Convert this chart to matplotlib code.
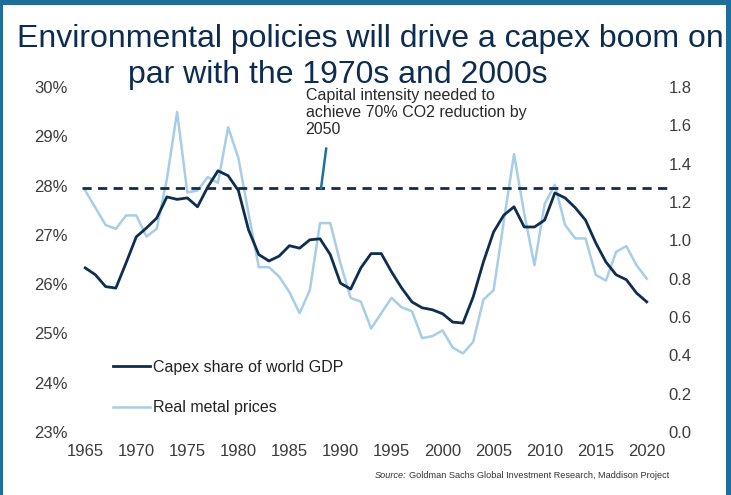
import numpy as np
import matplotlib.pyplot as plt
from matplotlib.lines import Line2D
from matplotlib.ticker import FuncFormatter

plt.rcParams['font.family'] = ['Liberation Sans', 'DejaVu Sans']

years = np.arange(1965, 2021)

# capex as share of world GDP, %
capex_share = [26.33, 26.19, 25.95, 25.92, 26.43, 26.96, 27.14, 27.34, 27.77, 27.72,
               27.75, 27.57, 27.97, 28.30, 28.20, 27.90, 27.10, 26.60, 26.47, 26.57,
               26.78, 26.73, 26.90, 26.92, 26.60, 26.02, 25.90, 26.33, 26.62, 26.62,
               26.25, 25.92, 25.64, 25.52, 25.48, 25.40, 25.23, 25.21, 25.74, 26.45,
               27.06, 27.40, 27.57, 27.16, 27.16, 27.30, 27.85, 27.75, 27.55, 27.30,
               26.84, 26.45, 26.19, 26.09, 25.82, 25.64]

# real metal price index (rhs)
metal_prices = [1.26, 1.17, 1.08, 1.06, 1.13, 1.13, 1.02, 1.06, 1.32, 1.67,
                1.25, 1.26, 1.33, 1.30, 1.59, 1.43, 1.14, 0.86, 0.86, 0.81,
                0.73, 0.62, 0.74, 1.09, 1.09, 0.88, 0.70, 0.68, 0.54, 0.62,
                0.70, 0.65, 0.63, 0.49, 0.50, 0.53, 0.44, 0.41, 0.47, 0.69,
                0.74, 1.10, 1.45, 1.14, 0.87, 1.19, 1.29, 1.08, 1.01, 1.01,
                0.82, 0.79, 0.94, 0.97, 0.87, 0.80]

target_share = 27.95
left_ticks = [23, 24, 25, 26, 27, 28, 29, 30]
right_ticks = [0.0, 0.2, 0.4, 0.6, 0.8, 1.0, 1.2, 1.4, 1.6, 1.8]
year_ticks = [1965, 1970, 1975, 1980, 1985, 1990, 1995, 2000, 2005, 2010, 2015, 2020]

navy = '#0f2e4f'
light = '#a8cde6'
frame = '#1e6d9b'
tick_grey = '#3c3c3c'

fig = plt.figure(figsize=(7.31, 4.95), dpi=100)
ax = fig.add_axes([0.1026, 0.1273, 0.8003, 0.6969])
ax2 = ax.twinx()
ax.set_zorder(ax2.get_zorder() + 1)
ax.patch.set_visible(False)

ax2.plot(years, metal_prices, color=light, lw=1.8, solid_joinstyle='round')
ax.plot(years, capex_share, color=navy, lw=2.0, solid_joinstyle='round')
ax.plot([1964.7, 2022.6], [target_share, target_share], color=navy, lw=2.0,
        dashes=(3.3, 2.3), clip_on=False)

ax.set_xlim(1964.0, 2021.3)
ax.set_ylim(23, 30)
ax2.set_ylim(0, 1.8)
ax.set_xticks(year_ticks)
ax.set_yticks(left_ticks)
ax2.set_yticks(right_ticks)
ax.yaxis.set_major_formatter(FuncFormatter(lambda v, p: f'{v:.0f}%'))
ax2.yaxis.set_major_formatter(FuncFormatter(lambda v, p: f'{v:.1f}'))

for a in (ax, ax2):
    for s in a.spines.values():
        s.set_visible(False)
    a.tick_params(length=0, labelsize=12, colors=tick_grey)
ax.tick_params(axis='x', pad=9)
ax.tick_params(axis='y', pad=5)
ax2.tick_params(axis='y', pad=6)

# annotation for the dashed target line
ax.text(1986.6, 29.97, 'Capital intensity needed to\nachieve 70% CO2 reduction by\n2050',
        fontsize=11.5, color='#2a2a2a', va='top', ha='left', linespacing=1.15)
ax.plot([1988.6, 1988.1], [28.75, 27.95], color='#1f6f9e', lw=1.8)

handles = [Line2D([], [], color=navy, lw=2.0), Line2D([], [], color=light, lw=1.8)]
ax.legend(handles, ['Capex share of world GDP', 'Real metal prices'],
          loc='center left', bbox_to_anchor=(0.1546, 0.2172),
          bbox_transform=fig.transFigure, frameon=False, fontsize=11.5,
          handlelength=2.3, handletextpad=0.2, labelspacing=1.6,
          borderpad=0, borderaxespad=0, labelcolor='#222222')

title_color = '#0d2c50'
fig.text(17 / 731, 1 - 47 / 495, 'Environmental policies will drive a capex boom on',
         fontsize=23, color=title_color, va='baseline', ha='left')
fig.text(128 / 731, 1 - 83 / 495, 'par with the 1970s and 2000s',
         fontsize=23, color=title_color, va='baseline', ha='left')

# source line: italic lead-in, then the rest placed right after it
src = fig.text(375 / 731, 1 - 478 / 495, 'Source:', fontsize=6.6, style='italic',
               color='#333333', va='baseline', ha='left')
fig.canvas.draw()
bb = src.get_window_extent().transformed(fig.transFigure.inverted())
fig.text(bb.x1 + 2 / 731, 1 - 478 / 495,
         'Goldman Sachs Global Investment Research, Maddison Project',
         fontsize=6.6, color='#333333', va='baseline', ha='left')

# blue frame on top, left and right edges
fig.add_artist(plt.Rectangle((0, 1 - 5 / 495), 1, 5 / 495, transform=fig.transFigure,
                             color=frame, lw=0))
fig.add_artist(plt.Rectangle((0, 0), 3 / 731, 1, transform=fig.transFigure,
                             color=frame, lw=0))
fig.add_artist(plt.Rectangle((1 - 5 / 731, 0), 5 / 731, 1, transform=fig.transFigure,
                             color=frame, lw=0))

fig.savefig('out.png', dpi=100)
